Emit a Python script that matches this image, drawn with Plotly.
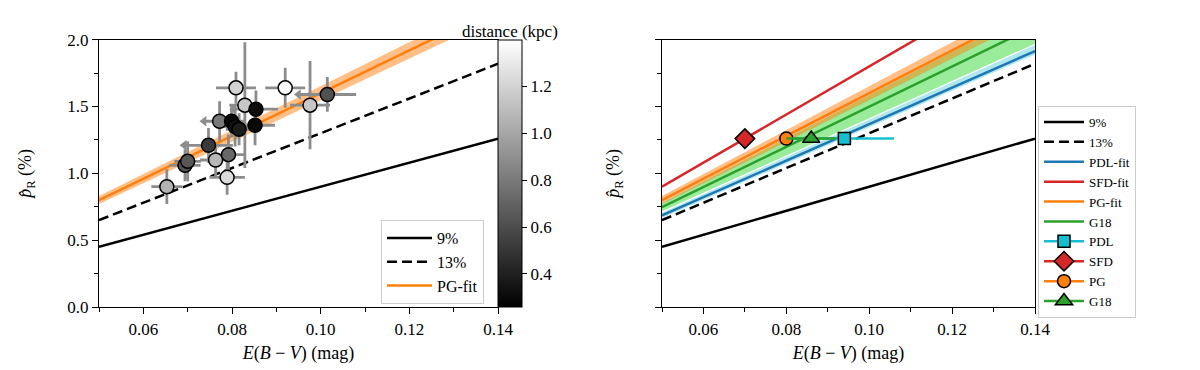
import plotly.graph_objects as go

# --- data ---
ebv_ends = [0.05, 0.14]
p9 = [0.45, 1.26]
p13 = [0.65, 1.82]
pg_fit = [0.80, 2.24]
pg_lo = [0.77, 2.17]
pg_hi = [0.83, 2.31]
g18_fit = [0.747, 2.10]
g18_lo = [0.716, 1.97]
g18_hi = [0.778, 2.23]
pdl_fit = [0.685, 1.915]
pdl_lo = [0.665, 1.89]
pdl_hi = [0.705, 1.96]
sfd_fit = [0.90, 2.52]

ebv = [0.0653, 0.0694, 0.0700, 0.0747, 0.0763, 0.0772, 0.0792, 0.0789, 0.0799,
       0.0807, 0.0816, 0.0809, 0.0829, 0.0854, 0.0852, 0.0920, 0.0976, 0.1015]
pr = [0.90, 1.06, 1.09, 1.21, 1.10, 1.39, 1.14, 0.97, 1.39,
      1.35, 1.33, 1.64, 1.51, 1.48, 1.36, 1.64, 1.51, 1.59]
ebv_err = [0.0035, 0.0035, 0.0030, 0.0055, 0.0035, 0.0035, 0.0035, 0.0040, 0.0030,
           0.0030, 0.0030, 0.0045, 0.0035, 0.0050, 0.0045, 0.0045, 0.0045, 0.0065]
pr_err = [0.13, 0.12, 0.15, 0.13, 0.12, 0.15, 0.15, 0.13, 0.12,
          0.15, 0.12, 0.12, 0.47, 0.14, 0.15, 0.15, 0.33, 0.13]
dist = [1.06, 0.62, 0.65, 0.52, 1.08, 0.80, 0.72, 1.24, 0.30,
        0.33, 0.38, 1.20, 1.15, 0.32, 0.30, 1.38, 1.15, 0.62]
uplim = [0, 0, 0, 1, 0, 1, 0, 0, 0, 0, 0, 0, 0, 1, 0, 0, 0, 1]

# right panel single estimates
est_names = ["PDL", "SFD", "PG", "G18"]
est_ebv = [0.094, 0.070, 0.080, 0.086]
est_err = [0.012, 0.0, 0.0, 0.006]
est_p = [1.26, 1.26, 1.26, 1.26]

FONT = "Liberation Serif"
blue, red, orange, green, cyan = "#1f77b4", "#d62728", "#ff7f0e", "#2ca02c", "#17becf"

fig = go.Figure()

def band(lo, hi, color, xa, ya):
    fig.add_trace(go.Scatter(x=[ebv_ends[0], ebv_ends[1], ebv_ends[1], ebv_ends[0]],
                             y=[lo[0], lo[1], hi[1], hi[0]], fill="toself", fillcolor=color,
                             mode="lines", line=dict(width=0), showlegend=False,
                             hoverinfo="skip", xaxis=xa, yaxis=ya))

def line(y, color, name, xa, ya, leg, rank, dash="solid", w=2.5, show=True):
    fig.add_trace(go.Scatter(x=ebv_ends, y=y, mode="lines", name=name,
                             line=dict(color=color, width=w, dash=dash),
                             showlegend=show, legend=leg, legendrank=rank,
                             xaxis=xa, yaxis=ya))

# ---- left panel ----
line(p9, "black", "9%", "x", "y", "legend", 1)
line(p13, "black", "13%", "x", "y", "legend", 2, dash="10px,5px")
band(pg_lo, pg_hi, "rgba(255,127,14,0.5)", "x", "y")
line(pg_fit, orange, "PG-fit", "x", "y", "legend", 3, w=2.5)

fig.add_trace(go.Scatter(
    x=ebv, y=pr, mode="markers", showlegend=False,
    error_x=dict(type="data", array=ebv_err, color="#8c8c8c", thickness=2.8, width=0),
    error_y=dict(type="data", array=pr_err, color="#8c8c8c", thickness=2.8, width=0),
    marker=dict(size=14, color=dist, colorscale=[[0, "black"], [1, "white"]],
                cmin=0.26, cmax=1.40, line=dict(color="black", width=1.5),
                colorbar=dict(x=490 / 1200, xanchor="left", xpad=0, ypad=0,
                              y=1 - 31.7 / 370, yanchor="top", lenmode="pixels", len=267,
                              thickness=24, outlinewidth=1, outlinecolor="black",
                              tickvals=[0.4, 0.6, 0.8, 1.0, 1.2], ticktext=["0.4", "0.6", "0.8", "1.0", "1.2"],
                              ticks="outside", ticklen=5, tickcolor="black",
                              tickfont=dict(family=FONT, size=17, color="black"))),
    xaxis="x", yaxis="y"))

lim_x = [ebv[i] - ebv_err[i] for i in range(len(ebv)) if uplim[i]]
lim_y = [pr[i] for i in range(len(ebv)) if uplim[i]]
fig.add_trace(go.Scatter(x=lim_x, y=lim_y, mode="markers", showlegend=False,
                         marker=dict(symbol="triangle-left", size=9, color="#8c8c8c"),
                         xaxis="x", yaxis="y"))

# ---- right panel ----
line(p9, "black", "9%", "x2", "y2", "legend2", 1)
line(p13, "black", "13%", "x2", "y2", "legend2", 2, dash="10px,5px")
band(pdl_lo, pdl_hi, "rgba(23,190,207,0.35)", "x2", "y2")
band(g18_lo, g18_hi, "rgba(120,230,120,0.75)", "x2", "y2")
band(pg_lo, pg_hi, "rgba(255,127,14,0.5)", "x2", "y2")
line(pdl_fit, blue, "PDL-fit", "x2", "y2", "legend2", 3, w=2.5)
line(sfd_fit, red, "SFD-fit", "x2", "y2", "legend2", 4, w=2.5)
line(pg_fit, orange, "PG-fit", "x2", "y2", "legend2", 5, w=2.5)
line(g18_fit, green, "G18", "x2", "y2", "legend2", 6, w=2.5)

m_sym = ["square", "diamond", "circle", "triangle-up"]
m_col = [cyan, red, orange, green]
m_size = [12, 15, 13, 15]
for i in range(4):
    fig.add_trace(go.Scatter(
        x=[est_ebv[i]], y=[est_p[i]], mode="lines+markers", name=est_names[i],
        line=dict(color=m_col[i], width=2.5),
        error_x=dict(type="data", array=[est_err[i]], color=m_col[i], thickness=2.5, width=0),
        marker=dict(symbol=m_sym[i], size=m_size[i], color=m_col[i], line=dict(color="black", width=1.5)),
        legend="legend2", legendrank=7 + i, xaxis="x2", yaxis="y2"))

ax_common = dict(range=[0.05, 0.14], tickvals=[0.06, 0.08, 0.10, 0.12, 0.14],
                 ticktext=["0.06", "0.08", "0.10", "0.12", "0.14"],
                 ticks="outside", ticklen=6, tickwidth=1.3, tickcolor="black",
                 minor=dict(tickvals=[0.05, 0.07, 0.09, 0.11, 0.13], ticks="outside", ticklen=3.5,
                            tickwidth=1, tickcolor="black"),
                 showline=True, linecolor="black", linewidth=1.3, mirror=True,
                 showgrid=False, zeroline=False, automargin=False,
                 title=dict(text="<i>E</i>(<i>B</i> − <i>V</i>) (mag)", standoff=8,
                            font=dict(family=FONT, size=18, color="black")),
                 tickfont=dict(family=FONT, size=17, color="black"))
ay_common = dict(range=[0, 2.0], tickvals=[0, 0.5, 1.0, 1.5, 2.0],
                 ticks="outside", ticklen=6, tickwidth=1.3, tickcolor="black",
                 minor=dict(tickvals=[0.25, 0.75, 1.25, 1.75], ticks="outside", ticklen=3.5,
                            tickwidth=1, tickcolor="black"),
                 showline=True, linecolor="black", linewidth=1.3, mirror=True,
                 showgrid=False, zeroline=False, automargin=False,
                 title=dict(text="<i>p̂</i><sub>R</sub> (%)", font=dict(family=FONT, size=18, color="black")),
                 tickfont=dict(family=FONT, size=17, color="black"))

y_dom = [1 - 299 / 370, 1 - 31.7 / 370]
fig.update_layout(
    width=1200, height=370, plot_bgcolor="white", paper_bgcolor="white",
    margin=dict(l=0, r=0, t=0, b=0),
    font=dict(family=FONT, size=17, color="black"),
    xaxis=dict(domain=[91 / 1200, 490 / 1200], anchor="y", **ax_common),
    yaxis=dict(domain=y_dom, anchor="x", ticktext=["0.0", "0.5", "1.0", "1.5", "2.0"],
               **{**ay_common, "title": dict(ay_common["title"], standoff=30)}),
    xaxis2=dict(domain=[654 / 1200, 1027 / 1200], anchor="y2", **ax_common),
    yaxis2=dict(domain=y_dom, anchor="x2", showticklabels=False,
                **{**ay_common, "title": dict(ay_common["title"], standoff=30)}),
    legend=dict(x=476 / 1200, xanchor="right", y=1 - 212 / 370, yanchor="top",
                bgcolor="rgba(255,255,255,0.8)", bordercolor="#cccccc", borderwidth=1,
                font=dict(family=FONT, size=16), itemwidth=45, tracegroupgap=0),
    legend2=dict(x=1030 / 1200, xanchor="left", y=1 - 98 / 370, yanchor="top",
                 bgcolor="white", bordercolor="#cccccc", borderwidth=1,
                 font=dict(family=FONT, size=13), itemwidth=40, tracegroupgap=0),
    annotations=[dict(text="distance (kpc)", x=502 / 1200, y=1 - 12 / 370, xref="paper", yref="paper",
                      showarrow=False, font=dict(family=FONT, size=17))],
)

fig.write_html("out.html")
